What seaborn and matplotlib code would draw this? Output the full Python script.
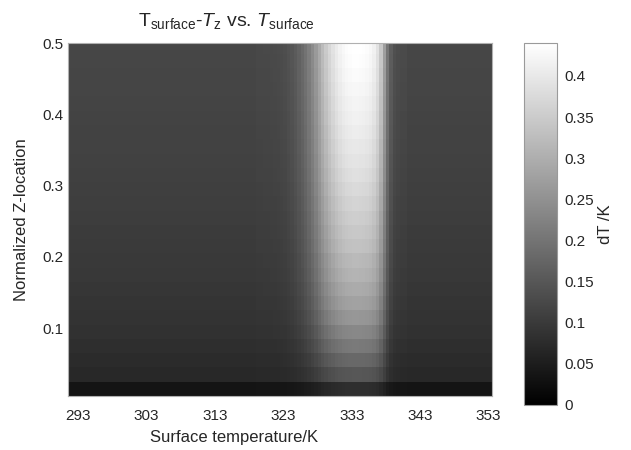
import numpy as np
import pandas as pd
import matplotlib
matplotlib.use("Agg")
import matplotlib.pyplot as plt
import seaborn as sns

# Surface temperature grid (K), 0.5 K per column
temps = np.round(np.arange(291.75, 353.5, 0.5), 2)

# Relative strength of the hot band across surface temperature (0..1)
band_core = [0.01, 0.01, 0.012, 0.012, 0.015, 0.018, 0.022, 0.03,
             0.04, 0.06, 0.08, 0.11, 0.15, 0.19, 0.24, 0.30, 0.37, 0.45,
             0.54, 0.63, 0.71, 0.78, 0.84, 0.89, 0.93, 0.96, 0.98, 0.99,
             1.00, 1.00, 0.995, 0.99, 0.98, 0.96, 0.92, 0.84, 0.70, 0.48,
             0.26, 0.12, 0.05, 0.03, 0.02, 0.02]
band_shape = [0.0] * 55 + band_core + [0.0] * 25

# Normalized Z-location of each row centre
z_loc = [0.015, 0.035, 0.055, 0.075, 0.095, 0.115, 0.135, 0.155, 0.175,
         0.195, 0.215, 0.235, 0.255, 0.275, 0.295, 0.315, 0.335, 0.355,
         0.375, 0.395, 0.415, 0.435, 0.455, 0.475, 0.495]

# dT away from the band (K)
background = [0.036, 0.070, 0.075, 0.080, 0.085, 0.088, 0.091, 0.094, 0.097,
              0.099, 0.101, 0.103, 0.105, 0.107, 0.109, 0.111, 0.112, 0.114,
              0.115, 0.116, 0.118, 0.119, 0.120, 0.121, 0.122]

# dT at the band centre (K)
peak = [0.080, 0.150, 0.180, 0.210, 0.235, 0.260, 0.280, 0.295, 0.310,
        0.320, 0.335, 0.345, 0.355, 0.365, 0.375, 0.385, 0.393, 0.400,
        0.408, 0.415, 0.420, 0.426, 0.432, 0.437, 0.440]

cbar_ticks = [0, 0.05, 0.1, 0.15, 0.2, 0.25, 0.3, 0.35, 0.4]
cbar_labels = ["0", "0.05", "0.1", "0.15", "0.2", "0.25", "0.3", "0.35", "0.4"]
x_ticks = [293, 303, 313, 323, 333, 343, 353]
y_ticks = [0.1, 0.2, 0.3, 0.4, 0.5]

assert len(band_shape) == len(temps)
bg = np.array(background)
pk = np.array(peak)
field = bg[:, None] + (pk - bg)[:, None] * np.array(band_shape)[None, :]
df = pd.DataFrame(field, index=z_loc, columns=temps)

sns.set_style("white")
plt.rcParams["font.family"] = ["Liberation Sans", "DejaVu Sans"]
plt.rcParams["mathtext.fontset"] = "custom"
plt.rcParams["mathtext.rm"] = "Liberation Sans"
plt.rcParams["mathtext.it"] = "Liberation Sans:italic"

W, H = 631, 450
fig = plt.figure(figsize=(W / 100, H / 100), dpi=100)
ax = fig.add_axes([68 / W, 1 - 396 / H, (492 - 68) / W, (396 - 43) / H])
cax = fig.add_axes([524 / W, 1 - 405 / H, (557 - 524) / W, (405 - 43) / H])

sns.heatmap(df, ax=ax, cbar_ax=cax, cmap="gray", vmin=0, vmax=0.44,
            xticklabels=False, yticklabels=False)

# map physical coordinates onto the cell index grid
dt = temps[1] - temps[0]
t0 = temps[0] - dt / 2
dz = z_loc[1] - z_loc[0]
z0 = z_loc[0] - dz / 2
ax.set_xlim(0, len(temps))
ax.set_ylim(0, (0.5 - z0) / dz)
ax.set_xticks([(t - t0) / dt for t in x_ticks])
ax.set_xticklabels([str(t) for t in x_ticks], fontsize=11)
ax.set_yticks([(z - z0) / dz for z in y_ticks])
ax.set_yticklabels([f"{z:g}" for z in y_ticks], fontsize=11)
ax.tick_params(axis="x", length=0, pad=9)
ax.tick_params(axis="y", length=0, pad=3)
for s in ax.spines.values():
    s.set_visible(True)
    s.set_color("#b0b0b0")
    s.set_linewidth(0.8)

ax.set_xlabel("Surface temperature/K", fontsize=12)
ax.xaxis.set_label_coords((234 - 68) / 424, -0.095)
ax.set_ylabel("Normalized Z-location", fontsize=12, labelpad=10)
fig.text(226 / W, 1 - 21 / H,
         r"$\mathrm{T}_{\mathrm{surface}}$-$T_{\mathrm{z}}$ vs. $T_{\mathrm{surface}}$",
         ha="center", va="center", fontsize=14)

cax.set_yticks(cbar_ticks)
cax.set_yticklabels(cbar_labels, fontsize=11)
cax.tick_params(axis="y", direction="in", left=True, right=True,
                length=3, width=0.6, color="#777777", pad=5)
cax.set_ylabel("dT /K", fontsize=12, labelpad=3)
cbar = ax.collections[0].colorbar
cbar.outline.set_edgecolor("#9a9a9a")
cbar.outline.set_linewidth(0.8)

fig.savefig("out.png", dpi=100, facecolor="white")
